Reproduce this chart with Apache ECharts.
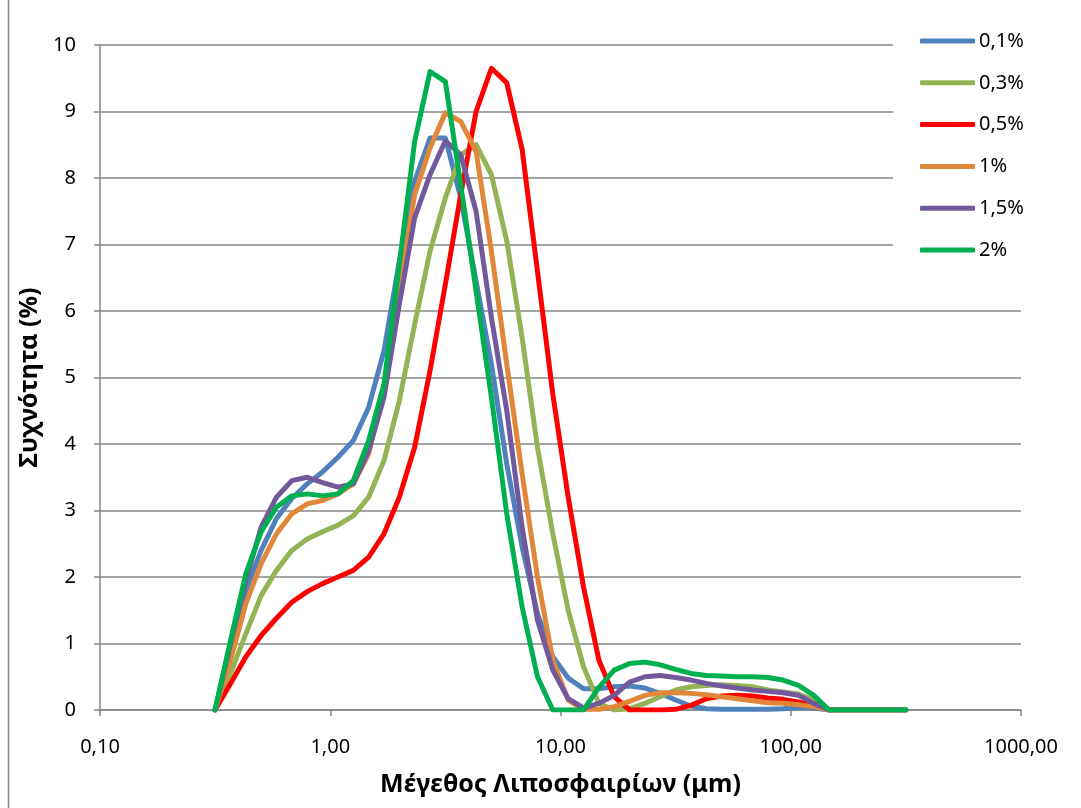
<!DOCTYPE html>
<html>
<head>
<meta charset="utf-8">
<script src="https://cdn.jsdelivr.net/npm/echarts@6/dist/echarts.min.js"></script>
<style>
html,body{margin:0;padding:0;background:#fff;}
#chart{width:1081px;height:808px;}
</style>
</head>
<body>
<div id="chart"></div>
<script>
// Particle size bins (µm)
const sizes = [0.316,0.369,0.430,0.501,0.584,0.681,0.794,0.926,1.080,1.259,1.468,1.711,1.995,2.326,2.712,3.162,3.687,4.299,5.012,5.843,6.813,7.943,9.261,10.80,12.59,14.68,17.11,19.95,23.26,27.12,31.62,36.87,42.99,50.12,58.43,68.13,79.43,92.61,108.0,125.9,146.8,171.1,199.5,232.6,271.2,316.2];

const seriesNames = ['0,1%','0,3%','0,5%','1%','1,5%','2%'];

const v01 = [0,0.9,1.8,2.4,2.88,3.18,3.4,3.58,3.8,4.05, 4.55,5.4,6.75,7.95,8.6,8.6,7.7,6.45,5.2,3.7, 2.45,1.45,0.8,0.48,0.32,0.32,0.35,0.36,0.33,0.25, 0.15,0.06,0.02,0.01,0.01,0.01,0.01,0.02,0.04,0.03, 0,0,0,0,0,0];
const v03 = [0,0.55,1.15,1.72,2.1,2.4,2.57,2.68,2.78,2.92, 3.2,3.75,4.65,5.8,6.9,7.7,8.35,8.5,8.05,7.05, 5.6,3.95,2.65,1.5,0.65,0.1,0,0.02,0.1,0.2, 0.3,0.35,0.37,0.38,0.37,0.35,0.3,0.27,0.24,0.15, 0,0,0,0,0,0];
const v05 = [0,0.4,0.8,1.12,1.38,1.62,1.78,1.9,2.0,2.1, 2.3,2.65,3.2,3.95,5.1,6.4,7.75,9.0,9.65,9.43, 8.43,6.6,4.75,3.2,1.85,0.75,0.2,0,0,0, 0.01,0.07,0.17,0.21,0.22,0.21,0.18,0.16,0.12,0.07, 0,0,0,0,0,0];
const v1  = [0,0.75,1.6,2.2,2.65,2.95,3.1,3.15,3.25,3.4, 3.85,4.85,6.35,7.75,8.45,8.98,8.85,8.4,6.9,5.2, 3.55,2.0,0.75,0.15,0.01,0.01,0.05,0.13,0.22,0.26, 0.26,0.25,0.23,0.2,0.17,0.14,0.11,0.1,0.08,0.05, 0,0,0,0,0,0];
const v15 = [0,1.0,1.95,2.75,3.2,3.45,3.5,3.42,3.35,3.4, 3.9,4.7,6.1,7.4,8.05,8.56,8.35,7.5,5.9,4.5, 2.75,1.35,0.6,0.17,0.03,0.1,0.22,0.42,0.5,0.52, 0.49,0.45,0.4,0.36,0.33,0.3,0.28,0.26,0.22,0.1, 0,0,0,0,0,0];
const v2  = [0,1.05,2.05,2.68,3.05,3.22,3.25,3.22,3.25,3.45, 4.05,4.9,6.7,8.55,9.6,9.45,7.9,6.3,4.7,2.95, 1.55,0.5,0,0,0,0.34,0.6,0.7,0.72,0.68, 0.61,0.55,0.52,0.51,0.5,0.5,0.49,0.45,0.37,0.22, 0,0,0,0,0,0];

const values = [v01, v03, v05, v1, v15, v2];
const colors = ['#4F81BD','#94B354','#FF0000','#E0873A','#72599B','#00B050'];

const FONT = 'Noto Sans';
const GRAY = '#868686';

const chart = echarts.init(document.getElementById('chart'), null, {renderer:'canvas'});

const series = seriesNames.map((n, i) => ({
  name: n,
  type: 'line',
  data: sizes.map((s, j) => [s, values[i][j]]),
  showSymbol: false,
  symbol: 'none',
  smooth: false,
  color: colors[i],
  lineStyle: {width: 5, color: colors[i], cap: 'round', join: 'round'},
  animation: false
}));

chart.setOption({
  animation: false,
  backgroundColor: '#fff',
  grid: {left: 100, top: 45, width: 921, height: 665, containLabel: false},
  xAxis: {
    type: 'log', logBase: 10, min: 0.1, max: 1000,
    name: 'Μέγεθος Λιποσφαιρίων (μm)',
    nameLocation: 'middle', nameGap: 62,
    nameTextStyle: {fontFamily: FONT, fontSize: 25, fontWeight: 'bold', color: '#000'},
    axisLine: {lineStyle: {color: GRAY, width: 1.5}},
    axisTick: {show: true, length: 6, inside: false, lineStyle: {color: GRAY, width: 1.5}},
    minorTick: {show: false},
    splitLine: {show: false},
    axisLabel: {
      margin: 27, fontFamily: FONT, fontSize: 20, color: '#000',
      formatter: v => Number(v).toFixed(2).replace('.', ',')
    }
  },
  yAxis: {
    type: 'value', min: 0, max: 10, interval: 1,
    name: 'Συχνότητα (%)',
    nameLocation: 'middle', nameGap: 55, nameRotate: 90,
    nameTextStyle: {fontFamily: FONT, fontSize: 25, fontWeight: 'bold', color: '#000'},
    axisLine: {show: true, lineStyle: {color: GRAY, width: 1.5}},
    axisTick: {show: true, length: 6, inside: false, lineStyle: {color: GRAY, width: 1.5}},
    splitLine: {show: true, lineStyle: {color: GRAY, width: 1.5}},
    axisLabel: {margin: 24, fontFamily: FONT, fontSize: 20, color: '#000'}
  },
  legend: {
    orient: 'vertical',
    left: 893, top: 22,
    padding: [8, 80, 14, 27],
    backgroundColor: '#fff',
    itemWidth: 55, itemHeight: 5,
    itemGap: 19.8,
    icon: 'roundRect',
    textStyle: {fontFamily: FONT, fontSize: 20, color: '#000', lineHeight: 22, padding: [0,0,0,-1]},
    data: seriesNames
  },
  graphic: [
    {type: 'line', shape: {x1: 8.5, y1: 0, x2: 8.5, y2: 808}, style: {stroke: GRAY, lineWidth: 1.5}, silent: true}
  ],
  series: series
});
</script>
</body>
</html>
